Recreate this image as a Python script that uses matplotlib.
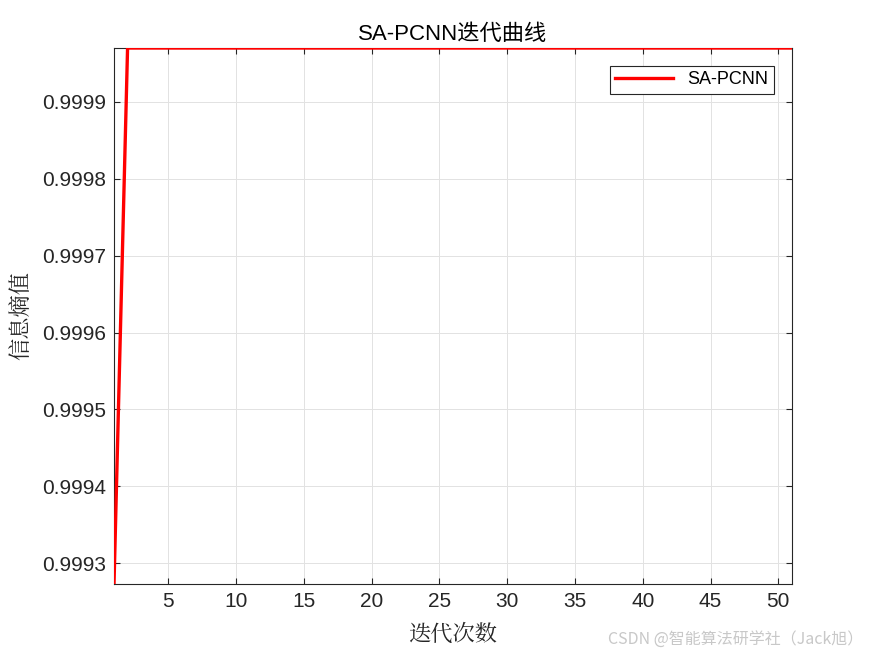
import matplotlib
matplotlib.use("Agg")
import matplotlib.pyplot as plt

# iteration curve
iterations = list(range(1, 52))
entropy = [0.999273,
           0.99997, 0.99997, 0.99997, 0.99997, 0.99997, 0.99997, 0.99997, 0.99997, 0.99997, 0.99997,
           0.99997, 0.99997, 0.99997, 0.99997, 0.99997, 0.99997, 0.99997, 0.99997, 0.99997, 0.99997,
           0.99997, 0.99997, 0.99997, 0.99997, 0.99997, 0.99997, 0.99997, 0.99997, 0.99997, 0.99997,
           0.99997, 0.99997, 0.99997, 0.99997, 0.99997, 0.99997, 0.99997, 0.99997, 0.99997, 0.99997,
           0.99997, 0.99997, 0.99997, 0.99997, 0.99997, 0.99997, 0.99997, 0.99997, 0.99997, 0.99997]
x_ticks = [5, 10, 15, 20, 25, 30, 35, 40, 45, 50]
y_ticks = [0.9993, 0.9994, 0.9995, 0.9996, 0.9997, 0.9998, 0.9999]
y_ticklabels = ["0.9993", "0.9994", "0.9995", "0.9996", "0.9997", "0.9998", "0.9999"]

plt.rcParams['font.family'] = ['Liberation Sans', 'Noto Sans CJK SC', 'DejaVu Sans']
dark = '#262626'

fig = plt.figure(figsize=(8.75, 6.56), dpi=100)
ax = fig.add_axes([0.1303, 0.1098, 0.7747, 0.8170])

ax.plot(iterations, entropy, color='red', linewidth=2.4, label='SA-PCNN', zorder=3)

ax.set_xlim(1, 51)
ax.set_ylim(min(entropy), max(entropy))
ax.set_xticks(x_ticks)
ax.set_yticks(y_ticks)
ax.set_yticklabels(y_ticklabels)

ax.tick_params(direction='in', length=4, width=0.8, color=dark, labelcolor=dark,
               labelsize=15, top=True, right=True, pad=6)
for s in ax.spines.values():
    s.set_color(dark)
    s.set_linewidth(0.8)
ax.grid(True, color='#e2e2e2', linewidth=0.7)
ax.set_axisbelow(True)

ax.set_title('SA-PCNN迭代曲线', fontsize=16, color='black', pad=6)
ax.set_xlabel('迭代次数', fontsize=16, color=dark,
              family=['Noto Serif CJK SC', 'Noto Sans CJK SC'], labelpad=8)
ax.set_ylabel('信息熵值', fontsize=16, color=dark,
              family=['Noto Serif CJK SC', 'Noto Sans CJK SC'], labelpad=6)

leg = ax.legend(loc='upper right', fontsize=13, fancybox=False, framealpha=1,
                edgecolor=dark, borderpad=0.3, handlelength=3.2, borderaxespad=0,
                bbox_to_anchor=(0.9735, 0.9665))
leg.get_frame().set_linewidth(0.8)

fig.text(0.986, 0.024, 'CSDN @智能算法研学社（Jack旭）', ha='right', va='center',
         fontsize=11.5, color='#c8c8c8', family=['Noto Sans CJK SC', 'DejaVu Sans'])

fig.savefig('out.png', dpi=100)
